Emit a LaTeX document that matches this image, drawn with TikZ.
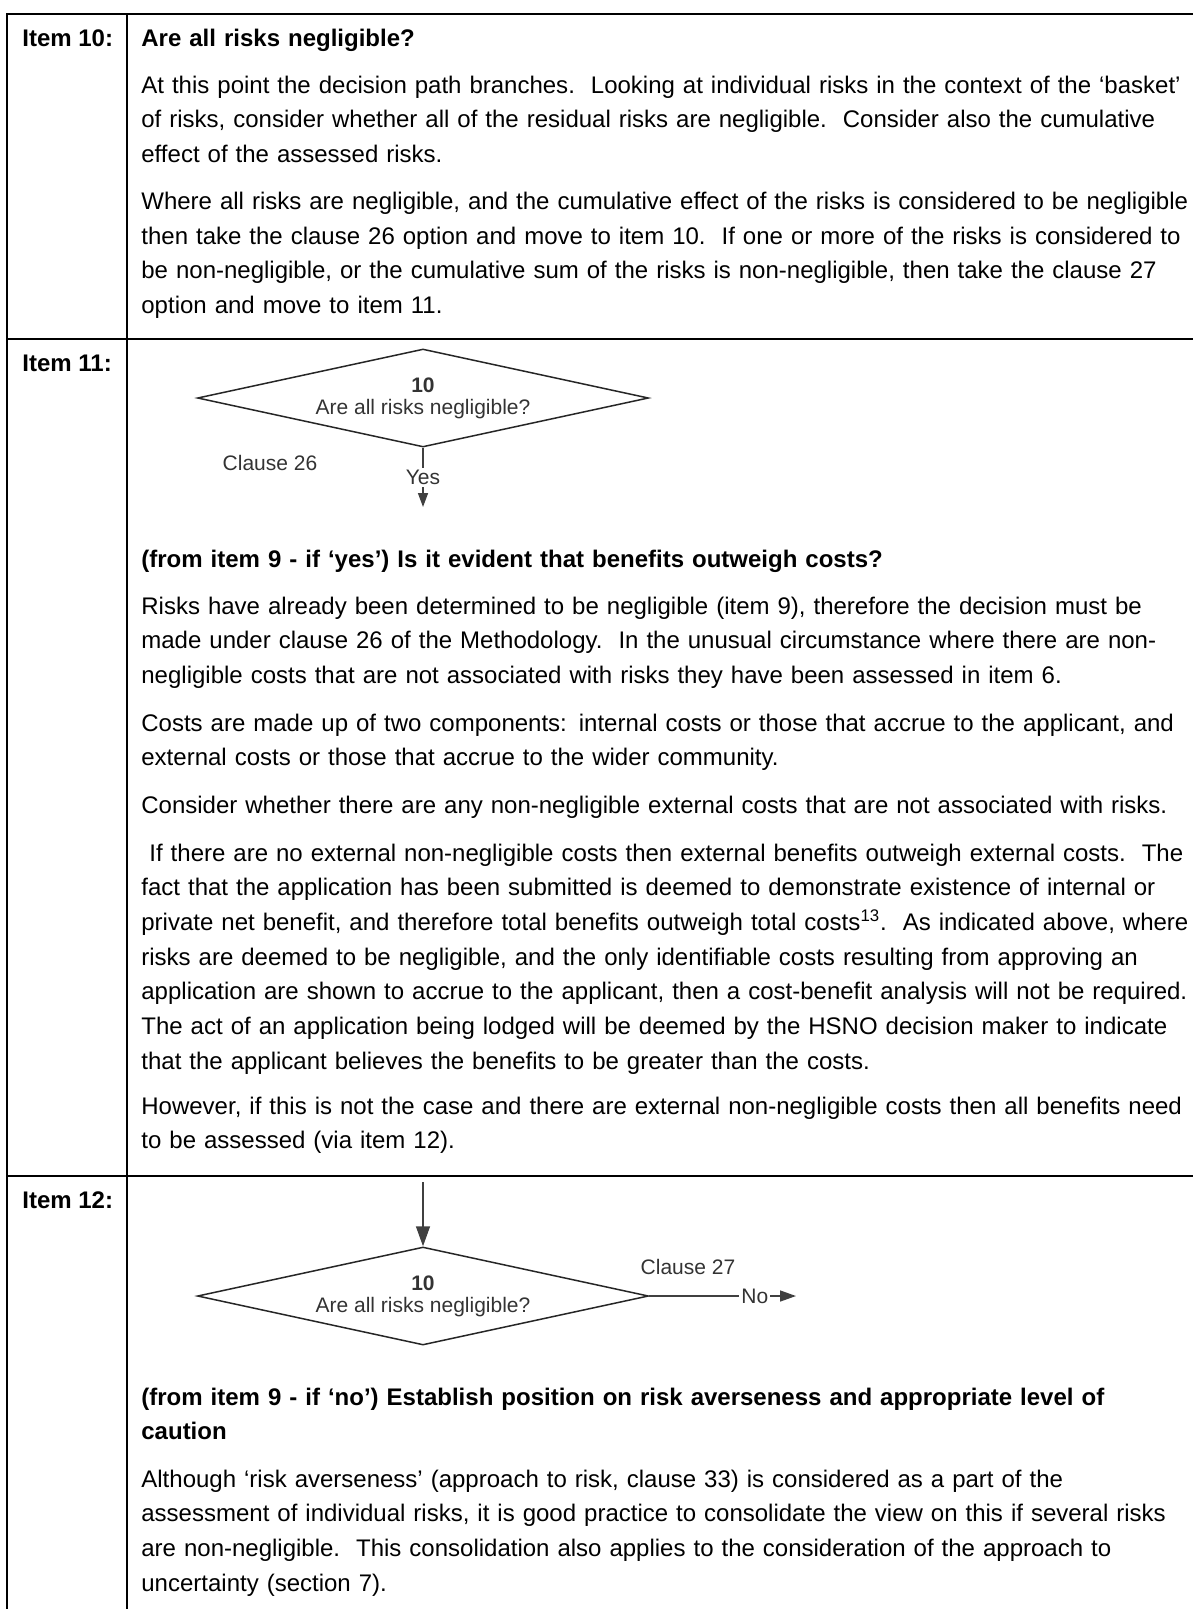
\documentclass[tikz,border=0pt]{standalone}
\usepackage{fontspec}
\setmainfont{Liberation Sans}
\usepackage{tikz}
\usetikzlibrary{shapes.geometric, arrows.meta}
\usepackage{xcolor}

\begin{document}
\begin{tikzpicture}[x=0.5bp, y=-0.5bp,
        rule/.style={line width=1bp, black},
        item/.style={anchor=base west, inner sep=0pt, font=\bfseries\fontsize{12bp}{17.35bp}\selectfont},
        para/.style={anchor=base west, inner sep=0pt, text width=540bp, align=left, font=\fontsize{12bp}{17.35bp}\selectfont},
        head/.style={para, font=\bfseries\fontsize{12bp}{17.35bp}\selectfont},
        decision/.style={diamond, aspect=4.6, draw=black!85, line width=0.75bp, inner sep=0pt, minimum width=225.5bp, minimum height=49bp, align=center, text=black!80, font=\fontsize{10.5bp}{11bp}\selectfont},
        lbl/.style={text=black!80, inner sep=1bp, font=\fontsize{10.5bp}{11bp}\selectfont},
        flow/.style={draw=black!75, line width=0.75bp}
    ]
        \useasboundingbox (0,0) rectangle (1193,1609);

        % table rules
        \draw[rule] (7,1609) |- (1193,14);
        \draw[rule] (127,14) -- (127,1609);
        \draw[rule] (7,339) -- (1193,339);
        \draw[rule] (7,1176) -- (1193,1176);

        % item 10
        \node[item] (lab10) at (22,46) {Item 10:};
        \node[head] (h10) at (141,46) {Are all risks negligible?};
        \node[para] (p10a) at (141,93) {At this point the decision path branches.\ \ Looking at individual risks in the context of the ‘basket’\\
            of risks, consider whether all of the residual risks are negligible.\ \ Consider also the cumulative\\
            effect of the assessed risks.};
        \node[para] (p10b) at (141,209.5) {Where all risks are negligible, and the cumulative effect of the risks is considered to be negligible\\
            then take the clause 26 option and move to item 10.\ \ If one or more of the risks is considered to\\
            be non-negligible, or the cumulative sum of the risks is non-negligible, then take the clause 27\\
            option and move to item 11.};

        % item 11
        \node[item] (lab11) at (22,371) {Item 11:};
        \node[decision] (d11) at (423,398) {\textbf{10}\\Are all risks negligible?};
        \node[lbl] (c26) at (270,463) {Clause 26};
        \coordinate (y11) at (423,507);
        \draw[flow, -{Triangle[length=7bp,width=5bp]}] (d11.south) -- node[lbl, fill=white] (yes11) {Yes} (y11);

        \node[head] (h11) at (141,567) {(from item 9 - if ‘yes’) Is it evident that benefits outweigh costs?};
        \node[para] (p11a) at (141,614) {Risks have already been determined to be negligible (item 9), therefore the decision must be\\
            made under clause 26 of the Methodology.\ \ In the unusual circumstance where there are non-\\
            negligible costs that are not associated with risks they have been assessed in item 6.};
        \node[para] (p11b) at (141,731) {Costs are made up of two components: internal costs or those that accrue to the applicant, and\\
            external costs or those that accrue to the wider community.};
        \node[para] (p11c) at (141,813) {Consider whether there are any non-negligible external costs that are not associated with risks.};
        \node[para] (p11d) at (141,861) {\ If there are no external non-negligible costs then external benefits outweigh external costs.\ \ The\\
            fact that the application has been submitted is deemed to demonstrate existence of internal or\\
            private net benefit, and therefore total benefits outweigh total costs\textsuperscript{13}.\ \ As indicated above, where\\
            risks are deemed to be negligible, and the only identifiable costs resulting from approving an\\
            application are shown to accrue to the applicant, then a cost-benefit analysis will not be required.\\
            The act of an application being lodged will be deemed by the HSNO decision maker to indicate\\
            that the applicant believes the benefits to be greater than the costs.};
        \node[para] (p11e) at (141,1114) {However, if this is not the case and there are external non-negligible costs then all benefits need\\
            to be assessed (via item 12).};

        % item 12
        \node[item] (lab12) at (22,1208) {Item 12:};
        \coordinate (in12) at (423,1182);
        \node[decision] (d12) at (423,1296) {\textbf{10}\\Are all risks negligible?};
        \draw[flow, -{Triangle[length=10bp,width=7bp]}] (in12) -- (d12.north);
        \node[lbl] (c27) at (688,1267) {Clause 27};
        \coordinate (out12) at (796,1296);
        \draw[flow, -{Triangle[length=8bp,width=5.5bp]}] (d12.east) -- node[lbl, fill=white, pos=0.72] (no12) {No} (out12);

        \node[head] (h12) at (141,1405) {(from item 9 - if ‘no’) Establish position on risk averseness and appropriate level of\\
            caution};
        \node[para] (p12) at (141,1487) {Although ‘risk averseness’ (approach to risk, clause 33) is considered as a part of the\\
            assessment of individual risks, it is good practice to consolidate the view on this if several risks\\
            are non-negligible.\ \ This consolidation also applies to the consideration of the approach to\\
            uncertainty (section 7).};
    \end{tikzpicture}
\end{document}
